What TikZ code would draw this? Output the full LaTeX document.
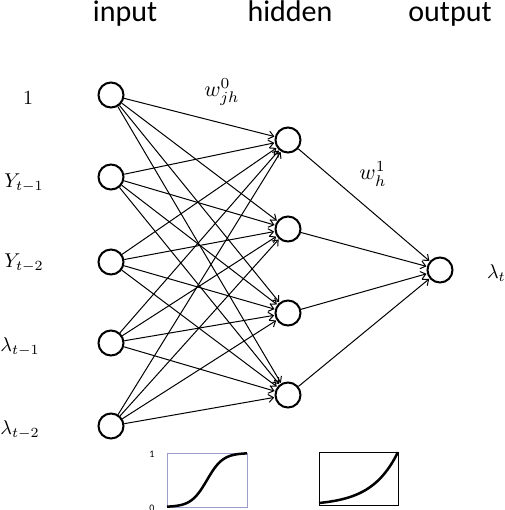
\RequirePackage{fix-cm}
\documentclass[tikz,border=0pt]{standalone}
\usepackage{fontspec}
\setmainfont{Carlito}
\usetikzlibrary{arrows.meta}
\begin{document}
\begin{tikzpicture}[x=1pt,y=-1pt,
  neuron/.style={circle,draw,line width=2pt,minimum size=25pt,inner sep=0pt},
  edge/.style={line width=1pt,-{Straight Barb[length=5pt,width=8pt,line width=1pt]},shorten >=0.5pt},
  header/.style={font=\fontsize{30}{34}\selectfont,anchor=base},
  lab/.style={scale=2.0},
  wlab/.style={scale=2.2}]
\useasboundingbox (0,0) rectangle (504,510);
% headers
\node[header] (hin) at (125,22) {input};
\node[header] (hhid) at (290,22) {hidden};
\node[header] (hout) at (450,22) {output};
% input neurons
\foreach \i/\y in {1/95,2/177,3/262,4/343,5/426}
  \node[neuron] (i\i) at (111,\y) {};
% hidden neurons
\foreach \h/\y in {1/140,2/229,3/313,4/395}
  \node[neuron] (h\h) at (288,\y) {};
% output neuron
\node[neuron] (o) at (440,270) {};
% labels
\node[lab] (l1) at (28,98) {$1$};
\node[lab] (l2) at (24,183) {$Y_{t-1}$};
\node[lab] (l3) at (24,263) {$Y_{t-2}$};
\node[lab] (l4) at (20,347) {$\lambda_{t-1}$};
\node[lab] (l5) at (20,430) {$\lambda_{t-2}$};
\node[lab,anchor=west] (lo) at (480,273) {$\lambda_t$};
% edges
\foreach \i in {1,...,5}
  \foreach \h in {1,...,4}
    \draw[edge] (i\i) -- (h\h);
\foreach \h in {1,...,4}
  \draw[edge] (h\h) -- (o);
% weight labels
\node[wlab] (w0) at (222,92) {$w_{jh}^{0}$};
\node[wlab] (w1) at (373,174) {$w_{h}^{1}$};
% sigmoid plot
\draw[line width=1pt,draw=gray!70!blue!60] (167,453) rectangle (247,507);
\draw[line width=2.5pt] plot[domain=0:1,samples=60,smooth] ({167+80*\x},{507-54/(1+exp(-10*(\x-0.5)))});
\node[font=\fontsize{10}{12}\selectfont] (s1) at (152,454) {1};
\node[font=\fontsize{10}{12}\selectfont] (s0) at (152,508) {0};
% exponential plot
\draw[line width=1pt] (319,452) rectangle (398,505);
\draw[line width=2.5pt] plot[domain=0:1,samples=60,smooth] ({319+79*\x},{503-51*(exp(3*\x)-1)/(exp(3)-1)});
\end{tikzpicture}
\end{document}
